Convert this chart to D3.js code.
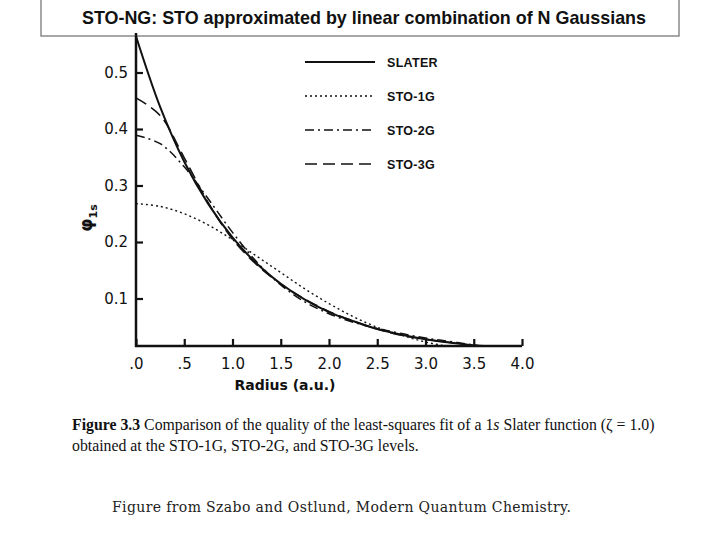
<html>
<head>
<script src="https://d3js.org/d3.v7.min.js"></script>
<style>
  body { margin: 0; background: #fff; }
  text { fill: #111; }
</style>
</head>
<body>
<script>
var radius = [0, 0.25, 0.5, 0.75, 1.0, 1.25, 1.5, 1.75, 2.0, 2.25, 2.5, 2.75, 3.0, 3.25, 3.5, 3.75, 4.0]

var slater = [0.564, 0.439, 0.342, 0.267, 0.208, 0.162, 0.126, 0.098, 0.076, 0.060, 0.046, 0.036, 0.028, 0.022, 0.017, 0.013, 0.010]
var sto1g  = [0.268, 0.263, 0.250, 0.230, 0.204, 0.175, 0.146, 0.117, 0.091, 0.068, 0.049, 0.035, 0.023, 0.015, 0.010, 0.006, 0.004]
var sto2g  = [0.389, 0.374, 0.333, 0.276, 0.217, 0.165, 0.124, 0.094, 0.073, 0.058, 0.047, 0.038, 0.030, 0.024, 0.018, 0.014, 0.010]
var sto3g  = [0.455, 0.424, 0.349, 0.269, 0.205, 0.160, 0.126, 0.099, 0.077, 0.060, 0.046, 0.035, 0.028, 0.022, 0.017, 0.014, 0.011]

var seriesNames = ["SLATER", "STO-1G", "STO-2G", "STO-3G"]
var xTicks = [0, 0.5, 1.0, 1.5, 2.0, 2.5, 3.0, 3.5, 4.0]
var xTickLabels = [".0", ".5", "1.0", "1.5", "2.0", "2.5", "3.0", "3.5", "4.0"]
var yTicks = [0.1, 0.2, 0.3, 0.4, 0.5]

var dashes = ["none", "2,3", "9,4,2,4", "12,6"]
var widths = [2, 1.4, 1.5, 1.6]

var svg = d3.select("body").append("svg")
  .attr("width", 720)
  .attr("height", 540)

svg.append("rect").attr("width", 720).attr("height", 540).attr("fill", "#fff")

// title box
svg.append("rect")
  .attr("x", 41).attr("y", -2)
  .attr("width", 638).attr("height", 38)
  .attr("fill", "#fff")
  .attr("stroke", "#8a8a8a")
  .attr("stroke-width", 1.5)

svg.append("text")
  .attr("x", 364).attr("y", 24)
  .attr("text-anchor", "middle")
  .style("font-family", "Liberation Sans, Arial, sans-serif")
  .style("font-weight", "bold")
  .style("font-size", "17.9px")
  .text("STO-NG: STO approximated by linear combination of N Gaussians")

var x = d3.scaleLinear().domain([0, 4]).range([136, 522])
var y = d3.scaleLinear().domain([0, 0.5]).range([355, 72.5])

var floorVal = 0.016  // the plotted baseline sits a bit above zero

svg.append("clipPath").attr("id", "plotclip")
  .append("rect")
  .attr("x", x(0)).attr("y", 0)
  .attr("width", x(4) - x(0) + 4)
  .attr("height", y(floorVal))

var line = d3.line()
  .x(function(d) { return x(d[0]) })
  .y(function(d) { return y(d[1]) })
  .curve(d3.curveCatmullRom)

var allSeries = [slater, sto1g, sto2g, sto3g]

svg.append("g").attr("clip-path", "url(#plotclip)")
  .selectAll("path")
  .data(allSeries)
  .enter().append("path")
    .attr("d", function(s) { return line(radius.map(function(r, i) { return [r, s[i]] })) })
    .attr("fill", "none")
    .attr("stroke", "#111")
    .attr("stroke-width", function(d, i) { return widths[i] })
    .attr("stroke-dasharray", function(d, i) { return dashes[i] })

// axes
var xAxis = d3.axisBottom(x)
  .tickValues(xTicks)
  .tickSizeInner(-7).tickSizeOuter(0)
  .tickPadding(12)
  .tickFormat(function(d, i) { return xTickLabels[i] })

var gx = svg.append("g")
  .attr("transform", "translate(0," + y(floorVal) + ")")
  .call(xAxis)
gx.select(".domain").remove()

var yAxis = d3.axisLeft(y)
  .tickValues(yTicks)
  .tickSizeInner(-7).tickSizeOuter(0)
  .tickPadding(8)
  .tickFormat(d3.format(".1f"))

var gy = svg.append("g")
  .attr("transform", "translate(" + x(0) + ",0)")
  .call(yAxis)
gy.select(".domain").remove()

svg.selectAll(".tick line").attr("stroke", "#111").attr("stroke-width", 2.2)
svg.selectAll(".tick text")
  .style("font-family", "DejaVu Sans, sans-serif")
  .style("font-size", "15px")
  .attr("fill", "#111")

svg.append("line")
  .attr("x1", x(0)).attr("x2", x(0))
  .attr("y1", y(0.57)).attr("y2", y(floorVal) + 1)
  .attr("stroke", "#111").attr("stroke-width", 2.5)
svg.append("line")
  .attr("x1", x(0) - 1).attr("x2", x(4))
  .attr("y1", y(floorVal)).attr("y2", y(floorVal))
  .attr("stroke", "#111").attr("stroke-width", 2.5)

// axis titles
svg.append("text")
  .attr("x", 285).attr("y", 390)
  .attr("text-anchor", "middle")
  .style("font-family", "DejaVu Sans, sans-serif")
  .style("font-weight", "bold")
  .style("font-size", "14px")
  .text("Radius (a.u.)")

var ylab = svg.append("text")
  .attr("transform", "translate(92,218) rotate(-90)")
  .attr("text-anchor", "middle")
  .style("font-family", "DejaVu Sans, sans-serif")
  .style("font-weight", "bold")
  .style("font-size", "17px")
ylab.append("tspan").text("\u03c6")
ylab.append("tspan").attr("dy", 5).style("font-size", "11px").text("1s")

// legend
var legend = svg.append("g").selectAll("g")
  .data(seriesNames)
  .enter().append("g")
    .attr("transform", function(d, i) { return "translate(305," + (62 + i * 34) + ")" })

legend.append("line")
  .attr("x1", 0).attr("x2", 70)
  .attr("stroke", "#111")
  .attr("stroke-width", function(d, i) { return widths[i] })
  .attr("stroke-dasharray", function(d, i) { return dashes[i] })

legend.append("text")
  .attr("x", 82).attr("y", 5)
  .style("font-family", "Liberation Sans, Arial, sans-serif")
  .style("font-weight", "bold")
  .style("font-size", "12.5px")
  .style("letter-spacing", "0.3px")
  .text(function(d) { return d })

// caption
var cap = svg.append("text")
  .attr("x", 72).attr("y", 430)
  .style("font-family", "Liberation Serif, Times New Roman, serif")
  .style("font-size", "15.8px")
cap.append("tspan").style("font-weight", "bold").text("Figure 3.3")
cap.append("tspan").text(" Comparison of the quality of the least-squares fit of a 1")
cap.append("tspan").style("font-style", "italic").text("s")
cap.append("tspan").text(" Slater function (\u03b6 = 1.0)")

svg.append("text")
  .attr("x", 72).attr("y", 451)
  .style("font-family", "Liberation Serif, Times New Roman, serif")
  .style("font-size", "15.8px")
  .text("obtained at the STO-1G, STO-2G, and STO-3G levels.")

svg.append("text")
  .attr("x", 112).attr("y", 512)
  .attr("textLength", 459)
  .attr("lengthAdjust", "spacing")
  .style("font-family", "DejaVu Serif, serif")
  .style("font-size", "14px")
  .style("fill", "#222")
  .text("Figure from Szabo and Ostlund, Modern Quantum Chemistry.")
</script>
</body>
</html>
